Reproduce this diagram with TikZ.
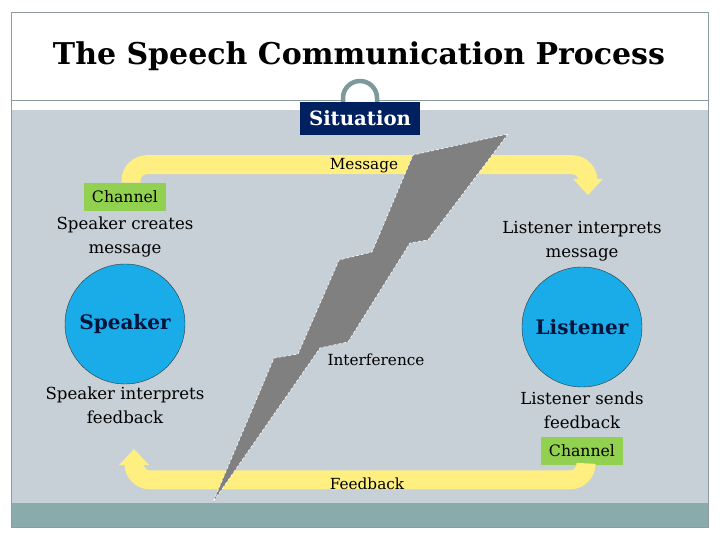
\documentclass[tikz,border=0pt]{standalone}
\usepackage{fontspec}
\setmainfont{DejaVu Serif}
\usepackage{tikz}
\usetikzlibrary{positioning, arrows.meta}

\definecolor{bandgray}{HTML}{C6D0D6}
\definecolor{footteal}{HTML}{8AABAB}
\definecolor{framegray}{HTML}{8C9C9C}
\definecolor{flowyellow}{HTML}{FFEF80}
\definecolor{navybox}{HTML}{002060}
\definecolor{chgreen}{HTML}{92D050}
\definecolor{personblue}{HTML}{1AACE8}
\definecolor{boltgray}{HTML}{808080}

\begin{document}
\begin{tikzpicture}[x=1pt, y=-1pt,
    node distance=6pt,
    person/.style={circle, draw=black!80, fill=personblue, minimum size=120pt, inner sep=0pt, font=\fontsize{20}{24}\selectfont\bfseries, text=navybox!60!black},
    channel/.style={rectangle, fill=chgreen, minimum width=82pt, minimum height=28pt, inner sep=0pt, font=\fontsize{15.7}{18}\selectfont},
    caption/.style={align=center, inner sep=0pt, font=\fontsize{16.6}{24}\selectfont},
    tag/.style={inner sep=1pt, font=\fontsize{15.3}{18}\selectfont},
    flow/.style={draw=flowyellow, line width=19pt, rounded corners=16pt, -{Triangle[width=29pt,length=16pt]}}
]
\useasboundingbox (0,0) rectangle (720,540);

% frame and bands
\fill[bandgray] (11,110) rectangle (708,503);
\fill[footteal] (11,503) rectangle (708,527);
\draw[framegray] (11,12) rectangle (708,527);
\draw[framegray] (11,100) -- (342,100);
\draw[framegray] (379,100) -- (708,100);
\draw[footteal!90!black, line width=4.5pt] (343,104) -- (343,98) arc[start angle=180, end angle=360, radius=17] -- (377,104);

\node[font=\fontsize{30}{36}\selectfont\bfseries] (title) at (359,56) {The Speech Communication Process};
\node[fill=navybox, text=white, minimum width=120pt, minimum height=33pt, inner sep=0pt, font=\fontsize{19.7}{22}\selectfont\bfseries] (situation) at (360,118.5) {Situation};

% speaker side
\node[person] (speaker) at (125,324) {Speaker};
\node[caption, above=6pt of speaker] (creates) {Speaker creates\\message};
\node[channel, above=6pt of creates] (chanspk) {Channel};
\node[caption, below=2pt of speaker] (sinterp) {Speaker interprets\\feedback};

% listener side
\node[person] (listener) at (582,327) {Listener};
\node[caption, above=5pt of listener] (linterp) {Listener interprets\\message};
\node[caption, below=4pt of listener] (lsends) {Listener sends\\feedback};
\node[channel, below=8pt of lsends] (chanlis) {Channel};

% message and feedback loops
\coordinate (msgtip) at (588,195);
\coordinate (fbtip) at (134,449);
\draw[flow] ([xshift=6pt]chanspk.north) -- ++(0,-18) -| (msgtip);
\draw[flow] ([xshift=4pt]chanlis.south) -- ++(0,15) -| (fbtip);

% interference bolt
\filldraw[fill=boltgray, draw=white, densely dashed, line width=0.6pt]
  (508,134) -- (428,240) -- (410,243) -- (348,342) -- (320,348) -- (213,502)
  -- (274,358) -- (298,354) -- (339,260) -- (372,252) -- (413,155) -- cycle;

\node[tag] (message) at (364,166) {Message};
\node[tag] (feedback) at (367,484) {Feedback};
\node[tag] (interference) at (376,360) {Interference};

\end{tikzpicture}
\end{document}
